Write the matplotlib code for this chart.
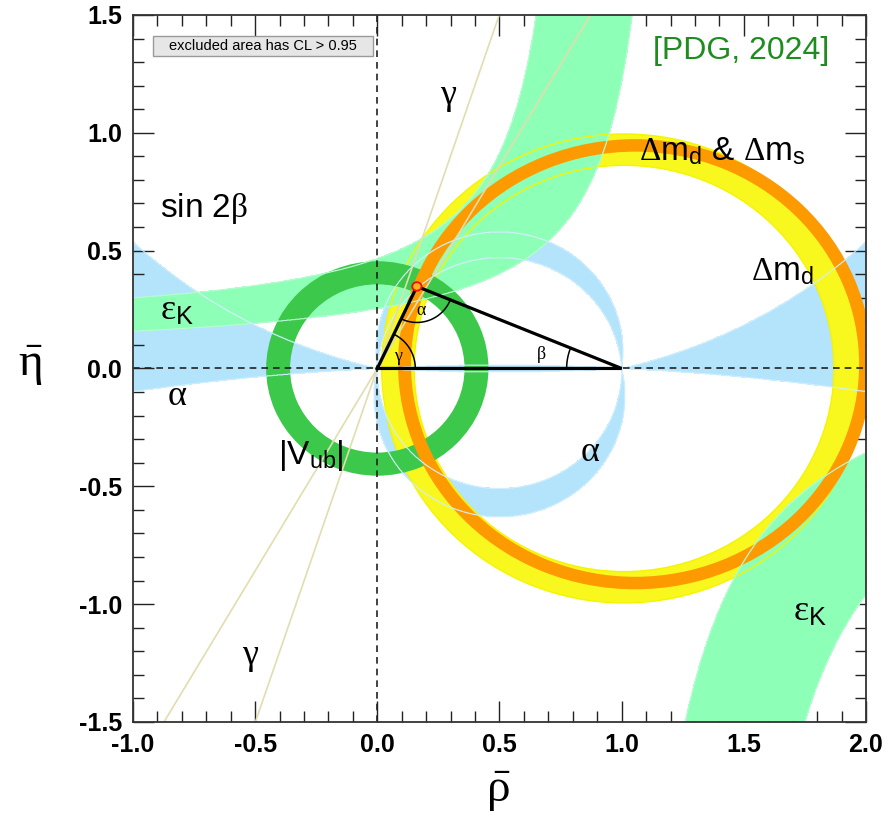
import numpy as np
import matplotlib
matplotlib.use('Agg')
import matplotlib.pyplot as plt
from matplotlib.patches import Annulus, Rectangle, Ellipse
from matplotlib.ticker import MultipleLocator, FormatStrFormatter

plt.rcParams['font.family'] = ['Liberation Sans', 'DejaVu Sans']
plt.rcParams['mathtext.fontset'] = 'custom'
plt.rcParams['mathtext.rm'] = 'Liberation Serif'
plt.rcParams['mathtext.it'] = 'Liberation Serif'
plt.rcParams['mathtext.sf'] = 'Liberation Sans'
plt.rcParams['mathtext.bf'] = 'Liberation Sans:bold'

# fitted apex of the unitarity triangle
rho_bar, eta_bar = 0.162, 0.348

# |Vub| ring : centre, outer radius, width
vub_centre = (0.0, 0.0)
vub_r_out = 0.455
vub_width = 0.098

# dm_d ring (yellow) and dm_d & dm_s ring (orange): centre, outer semi axes, width
dmd_centre = (1.01, 0.0)
dmd_r_out = (0.992, 0.995)
dmd_width = 0.133
dmds_centre = (1.055, 0.018)
dmds_r_out = (0.97, 0.955)
dmds_width = 0.053

# alpha: allowed ranges of the angle seen from (rho, eta), degrees
alpha_ranges = [(-2.8, 13.2), (81.6, 93.5), (-88.9, -76.9),
                (176.6, 180.0), (-180.0, -176.6)]

# gamma: the two edge lines through the origin, degrees
gamma_edges = [59.8, 71.6]

# eps_K edges, eta = k / (a - rho) + b  ->  (a, k, b)
epsk_up_inner = (1.2215, 0.2605, 0.0407)
epsk_up_outer = (0.8434, 0.2593, 0.159)
epsk_lo_inner = (0.9044, 0.6018, 0.192)
epsk_lo_outer = (1.3056, 0.6666, 0.0)

xlim = (-1.0, 2.0)
ylim = (-1.5, 1.5)

c_alpha = '#b3e4fb'
c_epsk = '#8effb6'
c_vub = '#3cc84a'
c_dmd = '#f8f81e'
c_dmds = '#fd9a00'
c_gamma = '#e2ddb0'

fig = plt.figure(figsize=(8.9, 8.22), dpi=100)
ax = fig.add_axes([0.1494, 0.1217, 0.8236, 0.8601])
ax.set_xlim(*xlim)
ax.set_ylim(*ylim)

# pixels per data unit, used for the angle arcs
sx = 0.8236 * 890 / (xlim[1] - xlim[0])
sy = 0.8601 * 822 / (ylim[1] - ylim[0])

rr, ee = np.meshgrid(np.linspace(-1, 2, 1601), np.linspace(-1.5, 1.5, 1601))


def hyp(p, x):
    a, k, b = p
    with np.errstate(divide='ignore', invalid='ignore'):
        return k / (a - x) + b


def band(mask, color, z, edge=None):
    m = mask.astype(float)
    ax.contourf(rr, ee, m, levels=[0.5, 1.5], colors=[color], zorder=z)
    if edge is not None:
        ax.contour(rr, ee, m, levels=[0.5], colors=[edge], linewidths=0.8, zorder=6)


# alpha
ang = np.degrees(np.arctan2(ee, rr**2 - rr + ee**2))
alpha_mask = np.zeros(rr.shape, bool)
for lo, hi in alpha_ranges:
    alpha_mask |= (ang >= lo) & (ang <= hi)
band(alpha_mask, c_alpha, 1, edge='#d2effd')

# dm_d
ax.add_patch(Annulus(dmd_centre, dmd_r_out, dmd_width, fc=c_dmd, ec='none', zorder=2))

# eps_K
up = (ee > 0) & (rr < epsk_up_inner[0]) & (ee >= hyp(epsk_up_inner, rr)) & \
     ((rr >= epsk_up_outer[0]) | (ee <= hyp(epsk_up_outer, rr)))
lo = (ee < 0) & (rr > epsk_lo_inner[0]) & (ee <= hyp(epsk_lo_inner, rr)) & \
     ((rr <= epsk_lo_outer[0]) | (ee >= hyp(epsk_lo_outer, rr)))
band(up | lo, c_epsk, 3, edge='#b8fcd4')

# dm_d outline over eps_K
ax.add_patch(Annulus(dmd_centre, dmd_r_out, dmd_width, fc='none', ec='#f4f400',
                     lw=1.0, zorder=3.5))

# |Vub|
ax.add_patch(Annulus(vub_centre, vub_r_out, vub_width, fc=c_vub, ec='none', zorder=4))

# dm_d & dm_s
ax.add_patch(Annulus(dmds_centre, dmds_r_out, dmds_width, fc=c_dmds, ec='none', zorder=5))

# gamma
for g in gamma_edges:
    t = np.tan(np.radians(g))
    ax.plot([ylim[0] / t, ylim[1] / t], [ylim[0], ylim[1]], color=c_gamma, lw=1.2, zorder=6)

ax.axhline(0, color='#222222', lw=1.2, ls=(0, (4, 3)), zorder=7)
ax.axvline(0, color='#222222', lw=1.2, ls=(0, (4, 3)), zorder=7)

# triangle
ax.plot([0, 1, rho_bar, 0], [0, 0, eta_bar, 0], color='k', lw=2.3, zorder=8,
        solid_joinstyle='miter')
ax.add_patch(Ellipse((rho_bar, eta_bar), 0.038, 0.036, fc='#ffb020', ec='#ee1111',
                     lw=1.3, zorder=8.5))


def arc(v, p1, p2, rpx):
    t1 = np.arctan2((p1[1] - v[1]) * sy, (p1[0] - v[0]) * sx)
    t2 = np.arctan2((p2[1] - v[1]) * sy, (p2[0] - v[0]) * sx)
    if t2 < t1:
        t2 += 2 * np.pi
    t = np.linspace(t1, t2, 60)
    ax.plot(v[0] + rpx * np.cos(t) / sx, v[1] + rpx * np.sin(t) / sy,
            color='k', lw=1.1, zorder=8)


apex = (rho_bar, eta_bar)
arc((0, 0), (1, 0), apex, 38)
arc(apex, (0, 0), (1, 0), 36)
arc((1, 0), apex, (0, 0), 55)

greek = 'Liberation Serif'
ax.text(0.085, 0.05, 'γ', fontsize=13, family=greek, ha='center', va='center', zorder=9)
ax.text(0.178, 0.245, 'α', fontsize=13, family=greek, ha='center', va='center', zorder=9)
ax.text(0.67, 0.058, 'β', fontsize=13, family=greek, ha='center', va='center', zorder=9)

big = 24
ax.text(0.29, 1.16, 'γ', fontsize=26, family=greek, ha='center', va='center', zorder=9)
ax.text(-0.52, -1.22, 'γ', fontsize=26, family=greek, ha='center', va='center', zorder=9)
ax.text(-0.71, 0.68, r'sin 2$\beta$', fontsize=big, ha='center', va='center', zorder=9)
ax.text(-0.82, 0.245, r'$\varepsilon_\mathsf{K}$', fontsize=26, ha='center',
        va='center', zorder=9)
ax.text(-0.82, -0.12, 'α', fontsize=26, family=greek, ha='center', va='center', zorder=9)
ax.text(0.87, -0.355, 'α', fontsize=26, family=greek, ha='center', va='center', zorder=9)
ax.text(-0.27, -0.37, r'|V$_\mathsf{ub}$|', fontsize=big, ha='center', va='center', zorder=9)
ax.text(1.41, 0.92, r'$\Delta$m$_\mathsf{d}$ & $\Delta$m$_\mathsf{s}$', fontsize=big,
        ha='center', va='center', zorder=9)
ax.text(1.66, 0.41, r'$\Delta$m$_\mathsf{d}$', fontsize=big, ha='center', va='center',
        zorder=9)
ax.text(1.77, -1.03, r'$\varepsilon_\mathsf{K}$', fontsize=26, ha='center', va='center',
        zorder=9)
ax.text(1.49, 1.345, '[PDG, 2024]', fontsize=23, color='#1e8c1e', ha='center',
        va='center', zorder=9)

ax.add_patch(Rectangle((-0.918, 1.324), 0.9, 0.085, fc='#e6e6e6', ec='#9a9a9a',
                       lw=1.0, zorder=9))
ax.text(-0.468, 1.3665, 'excluded area has CL > 0.95', fontsize=10.5, ha='center',
        va='center', zorder=10)

ax.xaxis.set_major_locator(MultipleLocator(0.5))
ax.xaxis.set_minor_locator(MultipleLocator(0.1))
ax.yaxis.set_major_locator(MultipleLocator(0.5))
ax.yaxis.set_minor_locator(MultipleLocator(0.1))
ax.xaxis.set_major_formatter(FormatStrFormatter('%.1f'))
ax.yaxis.set_major_formatter(FormatStrFormatter('%.1f'))
ax.tick_params(which='both', direction='in', top=True, right=True, width=1.0,
               color='#222222')
ax.tick_params(which='major', length=15, labelsize=18, pad=8)
ax.tick_params(which='minor', length=8)
for lab in ax.get_xticklabels() + ax.get_yticklabels():
    lab.set_fontweight('bold')
for s in ax.spines.values():
    s.set_linewidth(1.3)
    s.set_color('#333333')
    s.set_zorder(10)

fig.text(498 / 890, 1 - 792 / 822, r'$\bar{\rho}$', fontsize=34, ha='center', va='center')
fig.text(30 / 890, 1 - 366 / 822, r'$\bar{\eta}$', fontsize=34, ha='center', va='center')

fig.savefig('out.png', dpi=100)
